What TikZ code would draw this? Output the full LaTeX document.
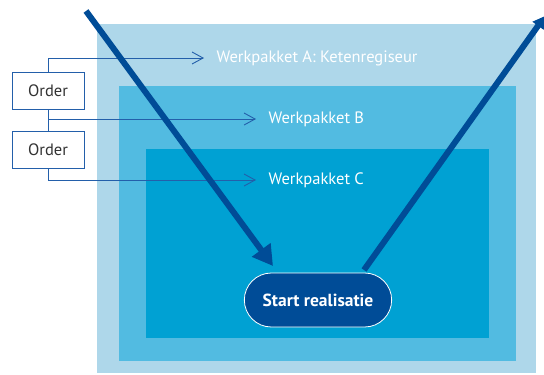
\documentclass[tikz,border=0pt]{standalone}
\usepackage{fontspec}
\setmainfont{PT Sans}
\usetikzlibrary{arrows.meta,shapes.misc}
\definecolor{lichtblauw}{RGB}{174,215,234}
\definecolor{middenblauw}{RGB}{82,187,225}
\definecolor{fasenblauw}{RGB}{0,161,211}
\definecolor{knopblauw}{RGB}{0,76,151}
\definecolor{lijnblauw}{RGB}{35,95,170}

\begin{document}
\begin{tikzpicture}[x=1pt, y=-1pt,
	orderbox/.style={draw=lijnblauw, line width=0.9pt, fill=white, minimum width=72pt, minimum height=37pt, text=black!80, font=\fontsize{16.5}{18}\selectfont},
	wplabel/.style={anchor=west, text=white, font=\fontsize{16.5}{18}\selectfont},
	lijn/.style={draw=lijnblauw, line width=0.9pt},
	lijnpijl/.style={lijn, shorten >=9pt, -{Straight Barb[length=11pt, width=12pt, line width=0.9pt]}},
	dikpijl/.style={draw=knopblauw, line width=6pt, -{Triangle[length=20pt, width=22pt]}},
	startknop/.style={rounded rectangle, fill=knopblauw, draw=white, line width=0.8pt, minimum width=154pt, minimum height=54pt, text=white, font=\bfseries\fontsize{17.5}{19}\selectfont}]
\useasboundingbox (0,0) rectangle (544,375);
% 背景の枠
	\fill[lichtblauw] (97,24) rectangle (536,373); % A
	\fill[middenblauw] (119,86) rectangle (516,361); % B
	\fill[fasenblauw] (146,149) rectangle (489,338); % C
% Order
	\node[orderbox] (ordera) at (48,90.5) {Order};
	\node[orderbox] (orderb) at (48,149.5) {Order};
% Werkpakket
	\node[wplabel] (wpa) at (213,58) {Werkpakket A: Ketenregiseur};
	\node[wplabel] (wpb) at (265,119) {Werkpakket B};
	\node[wplabel] (wpc) at (265,180) {Werkpakket C};
	\coordinate (knikb) at (ordera.south |- wpb.west);
% 線
	\draw[lijnpijl] (ordera.north) |- (wpa.west);
	\draw[lijn] (ordera.south) -- (orderb.north);
	\draw[lijnpijl] (knikb) -- (wpb.west);
	\draw[lijnpijl] (orderb.south) |- (wpc.west);
% 大きい矢印
	\coordinate (inbegin) at (86,11);
	\coordinate (intip) at (273,266);
	\coordinate (uitbegin) at (364,270);
	\coordinate (uittip) at (545,16);
	\draw[dikpijl] (inbegin) -- (intip);
	\draw[dikpijl, -{Triangle[length=12pt, width=13pt]}] (uitbegin) -- (uittip);
% Start
	\node[startknop] (start) at (318,300) {Start realisatie};
\end{tikzpicture}
\end{document}
